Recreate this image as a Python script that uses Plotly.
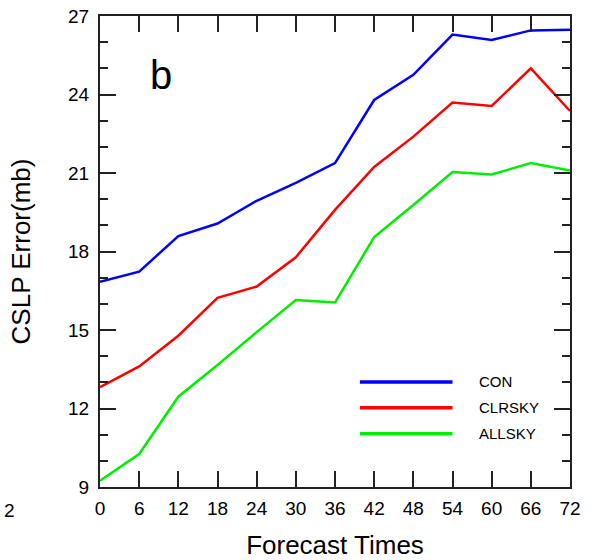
import plotly.graph_objects as go

forecast_times = [0, 6, 12, 18, 24, 30, 36, 42, 48, 54, 60, 66, 72]
con = [16.84, 17.23, 18.59, 19.07, 19.94, 20.62, 21.38, 23.79, 24.75, 26.29, 26.08, 26.45, 26.47]
clrsky = [12.82, 13.61, 14.78, 16.23, 16.66, 17.78, 19.59, 21.23, 22.39, 23.69, 23.56, 25.0, 23.37]
allsky = [9.24, 10.26, 12.45, 13.66, 14.92, 16.15, 16.05, 18.55, 19.78, 21.04, 20.94, 21.38, 21.09]
series_names = ["CON", "CLRSKY", "ALLSKY"]
series_colors = ["#0000ff", "#ff0000", "#00ee00"]
x_ticks = [0, 6, 12, 18, 24, 30, 36, 42, 48, 54, 60, 66, 72]
y_ticks = [9, 12, 15, 18, 21, 24, 27]

fig = go.Figure()
for name, vals, col in zip(series_names, [con, clrsky, allsky], series_colors):
    fig.add_trace(go.Scatter(x=forecast_times, y=vals, mode="lines", name=name,
                             line=dict(color=col, width=2.5), showlegend=False))

font_family = "Liberation Sans, Arial, sans-serif"
axis_common = dict(showgrid=False, zeroline=False, showline=True, linecolor="#222",
                   linewidth=2, mirror="allticks", ticks="inside", tickcolor="#222",
                   tickwidth=2, ticklen=16, automargin=False,
                   tickfont=dict(size=19, family=font_family, color="black"))
fig.update_xaxes(range=[0, 72], tickvals=x_ticks, ticktext=[str(v) for v in x_ticks],
                 ticklabelstandoff=3,
                 title=dict(text="Forecast Times", font=dict(size=26, family=font_family, color="black"), standoff=21),
                 **axis_common)
fig.update_yaxes(range=[9, 27], tickvals=y_ticks, ticktext=[str(v) for v in y_ticks],
                 ticklabelstandoff=5,
                 minor=dict(dtick=1, ticks="inside", ticklen=8, tickcolor="#222", tickwidth=2),
                 title=dict(text="CSLP Error(mb)", font=dict(size=26, family=font_family, color="black"), standoff=30),
                 **axis_common)

# custom legend (long sample lines as in the reference)
shapes = []
annotations = []
leg_y = [0.223, 0.168, 0.113]
for name, col, yy in zip(series_names, series_colors, leg_y):
    shapes.append(dict(type="line", xref="paper", yref="paper", x0=0.553, x1=0.75, y0=yy, y1=yy,
                       line=dict(color=col, width=3.5)))
    annotations.append(dict(text=name, xref="paper", yref="paper", x=0.802, y=yy, xanchor="left",
                            yanchor="middle", showarrow=False,
                            font=dict(size=15, family=font_family, color="black")))
annotations.append(dict(text="b", xref="paper", yref="paper", x=0.13, y=0.874, xanchor="center",
                        yanchor="middle", showarrow=False,
                        font=dict(size=40, family=font_family, color="black")))
annotations.append(dict(text="2", xref="paper", yref="paper", x=-0.209, y=-0.05, xanchor="left",
                        yanchor="middle", showarrow=False,
                        font=dict(size=19, family=font_family, color="black")))

fig.update_layout(width=591, height=560, margin=dict(l=100, r=21, t=16, b=73),
                  plot_bgcolor="white", paper_bgcolor="white",
                  shapes=shapes, annotations=annotations)
fig.write_html("out.html", config={"displayModeBar": False},
               post_script="document.body.style.margin='0';")
